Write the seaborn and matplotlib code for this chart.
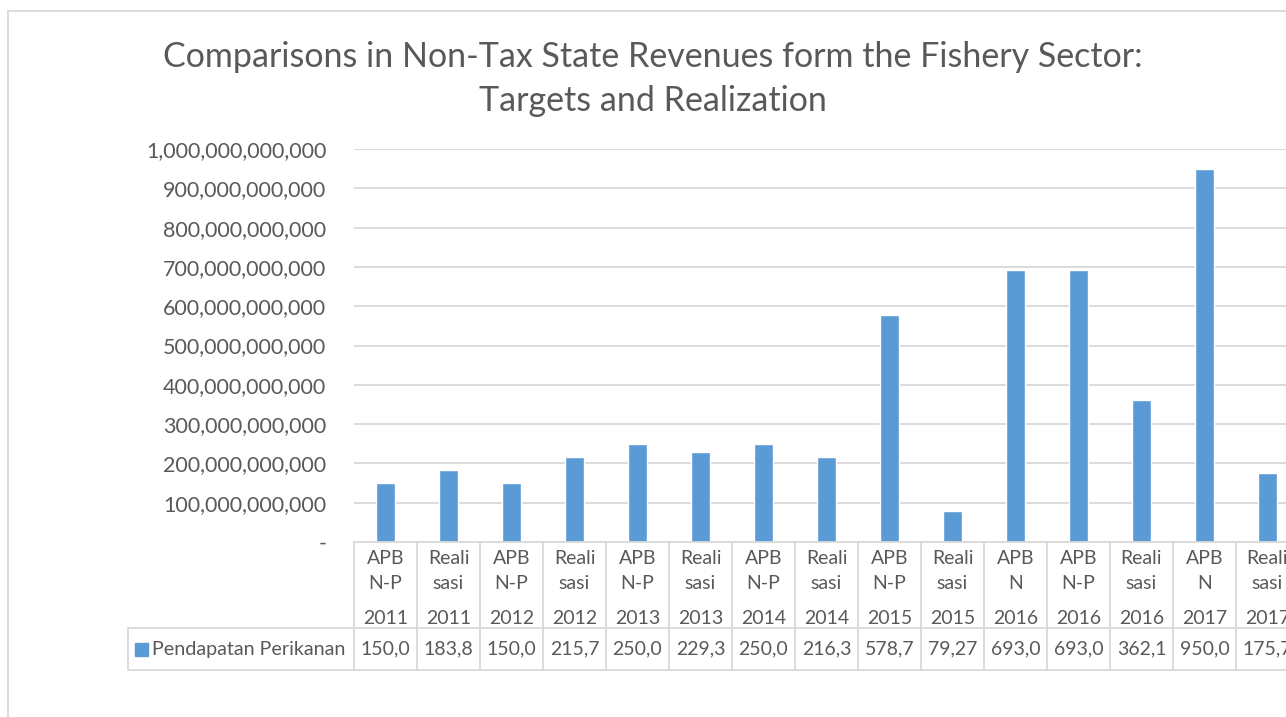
import numpy as np
import matplotlib
matplotlib.use("Agg")
import matplotlib.pyplot as plt
import matplotlib.transforms as mtransforms
from matplotlib.patches import Rectangle
from matplotlib.ticker import FuncFormatter, MultipleLocator
import seaborn as sns

# data
kinds = ["APB\nN-P", "Reali\nsasi", "APB\nN-P", "Reali\nsasi", "APB\nN-P", "Reali\nsasi",
         "APB\nN-P", "Reali\nsasi", "APB\nN-P", "Reali\nsasi", "APB\nN", "APB\nN-P",
         "Reali\nsasi", "APB\nN", "Reali\nsasi"]
years = ["2011", "2011", "2012", "2012", "2013", "2013", "2014", "2014", "2015", "2015",
         "2016", "2016", "2016", "2017", "2017"]
values = [150.0e9, 183.8e9, 150.0e9, 215.7e9, 250.0e9, 229.3e9, 250.0e9, 216.3e9,
          578.7e9, 79.27e9, 693.0e9, 693.0e9, 362.1e9, 950.0e9, 175.7e9]
series_name = "Pendapatan Perikanan"
title = "Comparisons in Non-Tax State Revenues form the Fishery Sector:\nTargets and Realization"

BAR = "#5B9BD5"
TXT = "#595959"
GRID = "#D9D9D9"

sns.set_style("white")
plt.rcParams["font.family"] = ["Lato", "DejaVu Sans"]

W, H = 1286, 717
fig = plt.figure(figsize=(W / 100, H / 100), dpi=100)

# axes placed in pixel terms (right edge runs past the figure like the source)
ax_l, ax_r, ax_b, ax_t = 354, 1299, 175, 568
ax = fig.add_axes([ax_l / W, ax_b / H, (ax_r - ax_l) / W, (ax_t - ax_b) / H])

cats = [k.replace("\n", "") + " " + y for k, y in zip(kinds, years)]
sns.barplot(x=cats, y=values, order=cats, color=BAR, width=0.31, saturation=1, ax=ax)

n = len(cats)
ax.set_xlim(-0.5, n - 0.5)
ax.set_ylim(0, 1e12)
ax.yaxis.set_major_locator(MultipleLocator(1e11))
ax.yaxis.set_major_formatter(FuncFormatter(lambda v, p: "-" if v == 0 else f"{v:,.0f}"))
ax.tick_params(axis="y", length=0, pad=20, labelsize=15.5, labelcolor=TXT)
ax.set_xticks([])
ax.set_xlabel("")
ax.set_ylabel("")
ax.yaxis.grid(True, color=GRID, linewidth=1.3)
ax.set_axisbelow(True)
for s in ["top", "right", "left"]:
    ax.spines[s].set_visible(False)
ax.spines["bottom"].set_color(GRID)
ax.spines["bottom"].set_linewidth(1.3)

# data table under the axis
ax_h = ax_t - ax_b
def yax(p):
    return (H - p - ax_b) / ax_h

tr = mtransforms.blended_transform_factory(ax.transData, ax.transAxes)
y_top, y_mid, y_bot = yax(542), yax(628), yax(670)
x_left = (128 - ax_l) / (ax_r - ax_l)
for i in range(n + 1):
    ax.plot([i - 0.5, i - 0.5], [y_top, y_bot], color=GRID, lw=1.3, transform=tr, clip_on=False)
for yy in (y_mid, y_bot):
    ax.plot([x_left, 1.0], [yy, yy], color=GRID, lw=1.3, transform=ax.transAxes, clip_on=False)
ax.plot([x_left, x_left], [y_mid, y_bot], color=GRID, lw=1.3, transform=ax.transAxes, clip_on=False)

for i, (k, y, v) in enumerate(zip(kinds, years, values)):
    ax.text(i, yax(571), k, transform=tr, ha="center", va="center", fontsize=14,
            color=TXT, linespacing=1.55, clip_on=False)
    ax.text(i, yax(618), y, transform=tr, ha="center", va="center", fontsize=14,
            color=TXT, clip_on=False)
    ax.text(i, yax(649), f"{v:,.0f}"[:5], transform=tr, ha="center", va="center",
            fontsize=14, color=TXT, clip_on=False)

# legend key inside the table
fig.patches.append(Rectangle((135 / W, (H - 656) / H), 13 / W, 13 / H,
                             transform=fig.transFigure, color=BAR))
fig.text(152 / W, (H - 649) / H, series_name, ha="left", va="center", fontsize=14.2, color=TXT)

# title
fig.text(653 / W, (H - 79) / H, title, ha="center", va="center", fontsize=24.5,
         color=TXT, linespacing=1.45)

# chart area border (runs off right and bottom edges)
top = (H - 11) / H
fig.patches.append(Rectangle((8 / W, -0.1), 2, top + 0.1,
                             transform=fig.transFigure, fill=False, edgecolor=GRID, lw=1.3))

fig.savefig("out.png", dpi=100)
